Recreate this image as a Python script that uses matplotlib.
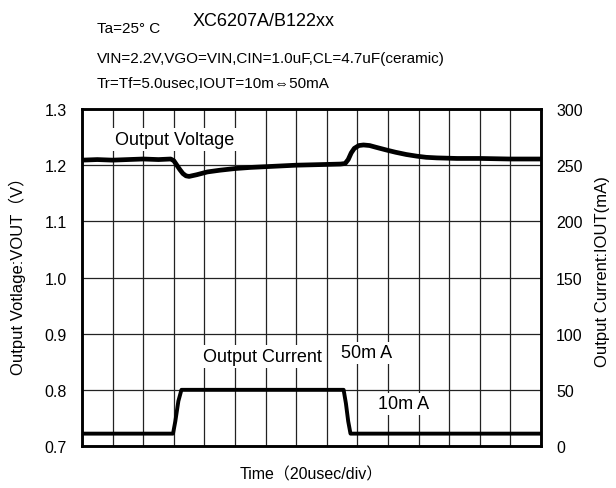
import matplotlib.pyplot as plt
import numpy as np

plt.rcParams['font.family'] = ['Liberation Sans', 'DejaVu Sans', 'Noto Sans CJK JP']

# time in usec (20usec/div, 15 div)
t_v = [0, 10, 20, 30, 40, 50, 58, 60, 62, 64, 66, 68, 70, 75, 82, 90, 100, 110, 125, 140, 155, 169, 172,
       174, 176, 178, 181, 184, 188, 192, 199, 205, 212, 219, 225, 232, 245, 260, 280, 300]
vout = [1.209, 1.210, 1.209, 1.210, 1.211, 1.210, 1.211, 1.208, 1.200, 1.192, 1.185, 1.181, 1.180, 1.183,
        1.188, 1.191, 1.194, 1.196, 1.198, 1.200, 1.201, 1.202, 1.203, 1.210, 1.222, 1.230, 1.235, 1.236,
        1.235, 1.232, 1.227, 1.223, 1.219, 1.216, 1.214, 1.213, 1.212, 1.212, 1.211, 1.211]

t_i = [0, 59.5, 61, 63, 65, 171, 172.5, 174, 175.5, 300]
iout = [11, 11, 22, 40, 50, 50, 38, 22, 11, 11]

fig = plt.figure(figsize=(6.16, 4.89), dpi=100)
ax = fig.add_axes([0.1331, 0.0859, 0.7451, 0.6891])
ax2 = ax.twinx()

ax.set_xlim(0, 300)
ax.set_ylim(0.7, 1.3)
ax2.set_ylim(0, 300)
ax.set_xticks(np.arange(0, 301, 20))
ax.set_xticklabels([])
ax.set_yticks(np.arange(0.7, 1.31, 0.1))
ax.set_yticklabels(['0.7', '0.8', '0.9', '1.0', '1.1', '1.2', '1.3'])
ax2.set_yticks(np.arange(0, 301, 50))
ax.grid(True, color='#222222', linewidth=0.9)
ax.tick_params(length=0, labelsize=11.5, pad=11)
ax2.tick_params(length=0, labelsize=11.5, pad=11)
for a in (ax, ax2):
    for s in a.spines.values():
        s.set_linewidth(1.8)

ax.plot(t_v, vout, color='black', linewidth=3.4)
ax2.plot(t_i, iout, color='black', linewidth=2.8)

box = dict(facecolor='white', edgecolor='none', pad=2)
ax.text(21.6, 1.246, 'Output Voltage', fontsize=13, va='center', ha='left', bbox=box)
ax.text(79, 0.859, 'Output Current', fontsize=13, va='center', ha='left', bbox=box)
ax.text(169, 0.866, '50m A', fontsize=13, va='center', ha='left', bbox=box)
ax.text(193.5, 0.775, '10m A', fontsize=13, va='center', ha='left', bbox=box)

fig.text(17 / 616, 1 - 272 / 489, 'Output Votlage:VOUT（V）', fontsize=12, rotation=90, va='center', ha='center')
fig.text(603 / 616, 1 - 272 / 489, 'Output Current:IOUT(mA)', fontsize=12, rotation=90, va='center', ha='center')
fig.text(311 / 616, 1 - 475 / 489, 'Time（20usec/div）', fontsize=11.5, va='center', ha='center')

fig.text(97 / 616, 1 - 29 / 489, 'Ta=25° C', fontsize=11, va='center', ha='left')
fig.text(193 / 616, 1 - 22 / 489, 'XC6207A/B122xx', fontsize=13, va='center', ha='left')
fig.text(97 / 616, 1 - 59 / 489, 'VIN=2.2V,VGO=VIN,CIN=1.0uF,CL=4.7uF(ceramic)', fontsize=11, va='center', ha='left')
fig.text(97 / 616, 1 - 84 / 489, 'Tr=Tf=5.0usec,IOUT=10m⇔50mA', fontsize=11, va='center', ha='left')

fig.savefig('out.png', dpi=100)
